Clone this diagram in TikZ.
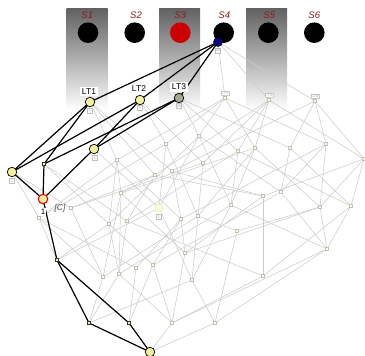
\documentclass[tikz,border=0pt]{standalone}
\usepackage{fontspec}
\setmainfont{Liberation Sans}
\definecolor{sred}{HTML}{8B1A1A}
\definecolor{nodey}{HTML}{F2F0A0}
\definecolor{paley}{HTML}{FFFFD0}
\definecolor{ltgray}{HTML}{A8A890}
\definecolor{topblue}{HTML}{0A0A80}
\begin{document}
\begin{tikzpicture}[x=1pt,y=-1pt,
  scircle/.style={circle, fill=black, minimum size=20.6pt, inner sep=0pt},
  slabel/.style={text=sred, font=\itshape\fontsize{9.5}{9.5}\selectfont},
  bignode/.style={circle, draw=black, fill=nodey, minimum size=9.5pt, inner sep=0pt, line width=0.7pt},
  smallnode/.style={rectangle, draw=black!80, fill=nodey, minimum size=3.2pt, inner sep=0pt, line width=0.5pt},
  graynode/.style={rectangle, draw=black!25, fill=paley, minimum size=3.2pt, inner sep=0pt, line width=0.3pt},
  ltlabel/.style={fill=white, font=\fontsize{8.5}{8.5}\selectfont, inner sep=1.5pt},
  fadelabel/.style={fill=white, draw=black!20, text=black!30, font=\fontsize{4.5}{4.5}\selectfont, inner sep=0.6pt, line width=0.3pt},
  tinybox/.style={draw=black!25, fill=white, text=black!35, minimum width=5pt, minimum height=5pt, inner sep=0.3pt, font=\fontsize{4}{4}\selectfont, line width=0.3pt},
  gedge/.style={draw=black!20, line width=0.55pt},
  bedge/.style={draw=black, line width=1.2pt}]
\useasboundingbox (0,0) rectangle (365,356);
% columns
\foreach \xa in {66.7,159,246}{
  \shade[top color=black!62, bottom color=white] (\xa,8) rectangle ++(41,102);
}
% sample circles
\node[scircle] (s1) at (88,32.7) {};
\node[scircle] (s2) at (134.7,32.7) {};
\node[scircle, fill=red!80!black] (s3) at (180.3,32.7) {};
\node[scircle] (s4) at (223.7,32.7) {};
\node[scircle] (s5) at (268.3,32.7) {};
\node[scircle] (s6) at (314.3,32.7) {};
\node[slabel] (l1) at (87.3,15) {S1};
\node[slabel] (l2) at (136,15) {S2};
\node[slabel] (l3) at (180.3,15) {S3};
\node[slabel] (l4) at (224.3,15) {S4};
\node[slabel] (l5) at (269.3,15) {S5};
\node[slabel] (l6) at (314.3,15) {S6};

% lattice node coordinates
\coordinate (T) at (218,42);
\coordinate (L1) at (90,102);
\coordinate (L2) at (140,100);
\coordinate (L3) at (179,98);
\coordinate (L4) at (225,98);
\coordinate (L5) at (269,100);
\coordinate (L6) at (315,101);
\coordinate (A) at (12,172);
\coordinate (B) at (44,164);
\coordinate (C) at (94,149);
\coordinate (R) at (43,199);
\coordinate (D) at (57,260);
\coordinate (E) at (89,323);
\coordinate (F) at (129,323);
\coordinate (Z) at (150,352);
\coordinate (P) at (159,208);
\foreach \n/\x/\y in {a1/117/160, a2/166/144, a3/199/136, a4/203/163, a5/238/151, a6/255/148, a7/290/148, a8/326/144, a9/364/159, a10/155/175, a11/172/171,
 b0/39/218, b1/121/193, b2/71/208, b3/109/224, b4/127/221, b5/181/219, b6/198/216, b7/231/205, b8/263/196, b9/281/192, b10/320/207, b11/351/206,
 c1/237/231, c2/185/253, c3/136/268, c4/153/265, c5/103/277, c6/119/274, c7/192/280, c8/263/276, c9/327/249,
 d1/172/323, d2/215/323}{
  \coordinate (\n) at (\x,\y);
}
% gray edges
\foreach \u/\v in {T/L4, T/L5, T/L6,
  L1/a1, L1/a10, L1/a11, L2/a2, L2/a4, L3/a3, L3/a5, L3/a7,
  L4/a1, L4/a2, L4/a3, L4/a6, L4/a8,
  L5/a10, L5/a4, L5/a5, L5/a6, L5/a9,
  L6/a11, L6/a7, L6/a8, L6/a9,
  A/b0, A/b2, B/b3, B/b4, C/P,
  a1/b0, a1/b3, a1/b1, a1/b5,
  a10/b2, a10/b1, a10/b4, a10/b8,
  a11/b5, a11/b8,
  a2/b0, a2/P, a2/b6,
  a4/b2, a4/b6,
  a3/b3, a3/P, a3/b7, a3/b9,
  a5/b4, a5/b7, a5/b11,
  a6/b1, a6/b6, a6/b7, a6/b10,
  a7/b9, a7/b11,
  a8/b5, a8/b9, a8/b10,
  a9/b8, a9/b10, a9/b11,
  b0/D, b0/c5, b0/c3, b2/c5, b3/D, b3/c6, b3/c4,
  b1/c5, b1/c6, b1/c2, b4/c6, b4/c8, P/D, P/c7,
  b5/c3, b5/c4, b5/c2, b6/c5, b6/c7, b6/c1,
  b7/c6, b7/c7, b7/c9, b8/c2, b8/c8, b9/c4, b9/c9,
  b10/c2, b10/c1, b10/c9, b11/c8, b11/c9,
  c5/E, c6/E, c6/d1, c3/F, c4/F, c4/d1, c2/d1, c7/E, c7/d2,
  c1/d2, c8/d1, c9/d1, c9/d2,
  d1/Z, d2/Z}{
  \draw[gedge] (\u) -- (\v);
}
% black edges
\foreach \u/\v in {T/L1, T/L2, T/L3, L1/A, L1/B, L2/A, L2/C, L3/B, L3/C, A/R, B/R, C/R, R/D, D/E, D/F, E/Z, F/Z}{
  \draw[bedge] (\u) -- (\v);
}
% gray nodes
\foreach \n in {a1,a2,a3,a4,a5,a6,a7,a8,a9,a10,a11,b0,b1,b2,b3,b4,b5,b6,b7,b8,b9,b10,b11,c1,c2,c3,c4,c5,c6,c7,c8,c9,d1,d2}{
  \node[graynode] (n\n) at (\n) {};
}
\node[graynode] (nL4) at (L4) {};
\node[graynode] (nL5) at (L5) {};
\node[graynode] (nL6) at (L6) {};
\node[circle, fill=paley, draw=black!15, minimum size=8pt, inner sep=0pt] (nP) at (P) {};
% highlighted nodes
\node[bignode] (nL1) at (L1) {};
\node[bignode] (nL2) at (L2) {};
\node[bignode, fill=ltgray] (nL3) at (L3) {};
\node[bignode] (nA) at (A) {};
\node[bignode] (nC) at (C) {};
\node[bignode, draw=red, line width=1.1pt] (nR) at (R) {};
\node[bignode] (nZ) at (Z) {};
\node[smallnode] (nB) at (B) {};
\node[smallnode] (nD) at (D) {};
\node[smallnode] (nE) at (E) {};
\node[smallnode] (nF) at (F) {};
\node[circle, fill=topblue, draw=black, minimum size=9pt, inner sep=0pt, line width=0.5pt] (nT) at (T) {};
% labels
\node[ltlabel] (t1) at (89,91.5) {LT1};
\node[ltlabel] (t2) at (139,89) {LT2};
\node[ltlabel] (t3) at (179,87) {LT3};
\node[fadelabel] (t4) at (225,93) {LT4};
\node[fadelabel] (t5) at (269,95) {LT5};
\node[fadelabel] (t6) at (315,96) {LT6};
\node[tinybox] (x0) at (218,50.5) {55};
\node[tinybox] (x1) at (90,110.5) {1};
\node[tinybox] (x2) at (140,107.5) {1};
\node[tinybox] (x3) at (179,106) {35};
\node[tinybox] (xA) at (12,181) {1};
\node[tinybox] (xC) at (95,158) {1};
\node[tinybox] (xP) at (159,217) {1};
\node[font=\fontsize{8}{8}\selectfont, fill=white, inner sep=0.8pt] (one) at (43,212) {1};
\node[font=\itshape\fontsize{8.5}{8.5}\selectfont, text=black!70] (cl) at (60,208) {[C]};
\end{tikzpicture}
\end{document}
